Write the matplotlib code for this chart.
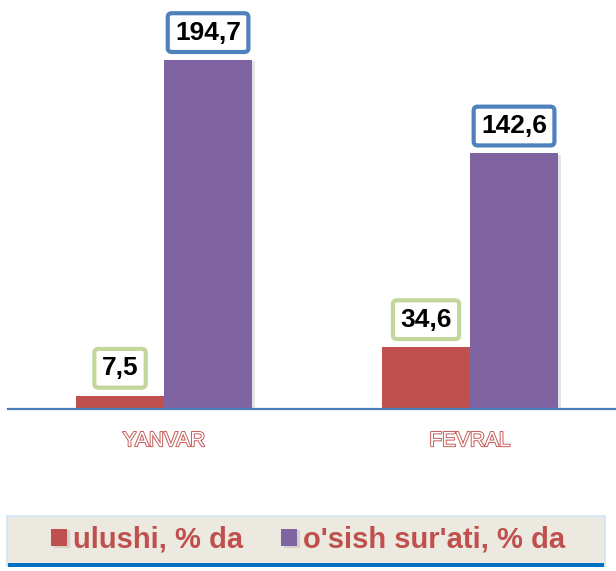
import matplotlib.pyplot as plt
import matplotlib.patheffects as pe
from matplotlib.patches import Rectangle
import numpy as np

plt.rcParams['font.family'] = ['Liberation Sans', 'DejaVu Sans']

# data
months = ["YANVAR", "FEVRAL"]
ulushi = [7.5, 34.6]
osish = [194.7, 142.6]
series_names = ["ulushi, % da", "o'sish sur'ati, % da"]

red = "#C0504D"
purple = "#8064A2"
box_edges = ["#C3D69B", "#4F81BD"]

fig = plt.figure(figsize=(6.16, 5.71), dpi=100)
ax = fig.add_axes([8 / 616, 162 / 571, 608 / 616, 409 / 571])

x = np.arange(len(months))
w = 0.2876
shadow = [pe.SimplePatchShadow(offset=(2, -1), alpha=0.12), pe.Normal()]
b1 = ax.bar(x - w / 2, ulushi, w, color=red, path_effects=shadow, label=series_names[0])
b2 = ax.bar(x + w / 2, osish, w, color=purple, path_effects=shadow, label=series_names[1])

# value labels in boxes
for bars, vals, ec in [(b1, ulushi, box_edges[0]), (b2, osish, box_edges[1])]:
    for rect, v in zip(bars, vals):
        ax.annotate(f"{v:.1f}".replace(".", ","),
                    (rect.get_x() + rect.get_width() / 2, rect.get_height()),
                    xytext=(0, 11), textcoords="offset points",
                    ha="center", va="bottom", fontsize=19, fontweight="bold",
                    bbox=dict(boxstyle="round,pad=0.28,rounding_size=0.15",
                              fc="white", ec=ec, lw=3))

ax.set_xlim(-0.51, 1.477)
ax.set_ylim(0, 228.1)
for s in ["top", "right", "left"]:
    ax.spines[s].set_visible(False)
ax.spines["bottom"].set_color("#4A7EBB")
ax.spines["bottom"].set_linewidth(1.6)
ax.set_yticks([])
ax.set_xticks(x)
ax.set_xticklabels(months, fontsize=15, color="white",
                   path_effects=[pe.withStroke(linewidth=1.3, foreground=red)])
ax.tick_params(axis="x", length=0, pad=16)

# legend box
fig.patches.append(Rectangle((6 / 616, 4 / 571), 600 / 616, 52 / 571,
                             transform=fig.transFigure, fc="#D6E6F4", ec="none", zorder=0))
fig.patches.append(Rectangle((8 / 616, 4 / 571), 596 / 616, 50 / 571,
                             transform=fig.transFigure, fc="#0070C0", ec="none", zorder=1))
fig.patches.append(Rectangle((8 / 616, 8 / 571), 596 / 616, 46 / 571,
                             transform=fig.transFigure, fc="#ECEAE0", ec="none", zorder=2))
leg = fig.legend(handles=[b1, b2], loc="center", bbox_to_anchor=(308 / 616, 31 / 571),
                 ncol=2, frameon=False, labelcolor=red,
                 prop={"weight": "bold", "size": 21},
                 handlelength=0.55, handleheight=0.55, handletextpad=0.2,
                 columnspacing=1.3)
leg.set_zorder(3)

fig.savefig("out.png", dpi=100)
